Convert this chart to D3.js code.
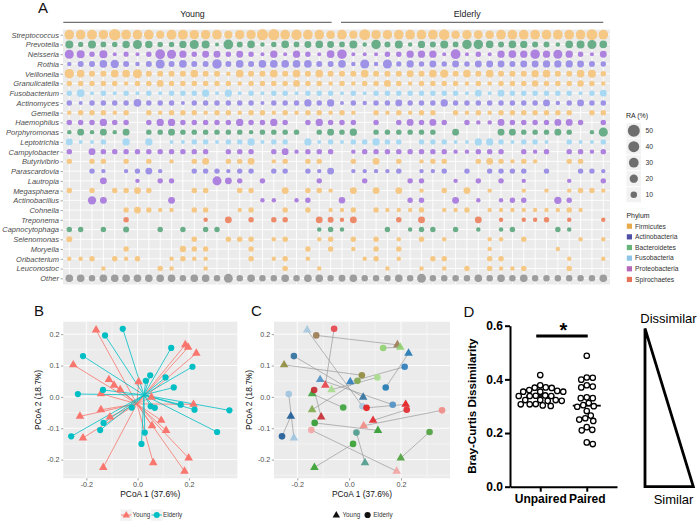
<!DOCTYPE html>
<html><head><meta charset="utf-8">
<script src="https://cdn.jsdelivr.net/npm/d3@7"></script>
<style>
body{margin:0;background:#fff;}
svg{display:block;font-family:"Liberation Sans",Arial,sans-serif;}
</style>
</head><body>
<svg id="c" width="700" height="523"></svg>
<script>
// ================= DATA =================
// Panel A: genera (rows), phylum of each genus, samples (columns)
const genera = ["Streptococcus","Prevotella","Neisseria","Rothia","Veillonella","Granulicatella","Fusobacterium","Actinomyces","Gemella","Haemophilus","Porphyromonas","Leptotrichia","Campylobacter","Butyrivibrio","Parascardovia","Lautropia","Megasphaera","Actinobacillus","Cohnella","Treponema","Capnocytophaga","Selenomonas","Moryella","Oribacterium","Leuconostoc","Other"];
const generaPhylum = ["Firmicutes","Bacteroidetes","Proteobacteria","Actinobacteria","Firmicutes","Firmicutes","Fusobacteria","Actinobacteria","Firmicutes","Proteobacteria","Bacteroidetes","Fusobacteria","Proteobacteria","Firmicutes","Actinobacteria","Proteobacteria","Firmicutes","Proteobacteria","Firmicutes","Spirochaetes","Bacteroidetes","Firmicutes","Firmicutes","Firmicutes","Firmicutes","Other"];
const phyla = ["Firmicutes","Actinobacteria","Bacteroidetes","Fusobacteria","Proteobacteria","Spirochaetes"];
const ageGroups = ["Young","Elderly"];
const youngSamples = d3.range(1,25).map(i=>"Y"+i);
const elderlySamples = d3.range(1,25).map(i=>"E"+i);
const samples = youngSamples.concat(elderlySamples);
const sizeLegendValues = [50,40,30,20,10];

// relative abundance (%) per genus, 48 samples (24 young, 24 elderly)
const raStreptococcus = [30,30,32,28,45,30,30,30,20,32,32,28,28,30,20,28, 28,42,42,30,36,30,30,22, 30,20,40,28,28,30,30,30, 30,38,22,28,24,22,30,30,30,30,30,30,30,30,40,30];
const raPrevotella = [18,5,18,7,6,15,25,15,6,6,14,25,18,2,30,8, 16,3,6,16,7,12,16,12,7,18,3,28,8,18,3,14, 8,18,7,28,28,16,8,16,14,8,8,3,16,18,25,16];
const raNeisseria = [25,18,6,18,2,5,2,6,30,25,14,6,12,12,6,12, 6,2,14,2,14,6,2,16,28,2,2,2,6,6,14,14, 14,2,30,2,6,2,14,16,14,28,14,25,14,6,2,12];
const raRothia = [3,8,8,16,20,8,3,8,25,8,16,8,8,28,8,16, 8,16,16,16,16,16,8,8,16,3,25,3,25,5,14,6, 12,6,12,6,12,12,12,8,12,12,14,14,14,12,8,6];
const raVeillonella = [28,16,8,8,16,16,25,8,8,8,8,16,8,8,3,16, 8,8,16,8,16,8,16,8,8,8,16,8,8,8,12,8, 16,20,8,16,8,16,8,8,8,14,16,8,8,16,18,6];
const raGranulicatella = [6,6,6,6,6,3,6,6,12,6,6,6,6,6,6,3, 6,6,6,6,12,6,6,3,6,3,6,6,12,6,3,6, 6,6,6,3,6,3,6,6,6,10,6,6,6,10,6,3];
const raFusobacterium = [6,16,2,6,2,6,2,6,2,6,6,6,14,2,14,2, 6,2,6,6,2,6,6,6,2,6,2,6,6,6,6,6, 6,6,6,2,12,2,12,6,6,6,6,6,6,2,6,12];
const raActinomyces = [6,2,6,6,6,6,16,6,6,6,2,6,6,6,6,6, 6,2,6,6,6,14,6,14,2,6,3,6,6,12,6,6, 6,14,6,6,6,6,6,6,6,6,12,3,6,12,6,6];
const raGemella = [3,6,6,6,3,6,0,6,3,6,6,6,3,6,6,3, 6,6,3,6,3,6,6,3,6,3,0,6,3,6,3,6, 6,0,6,3,6,3,6,6,6,6,6,6,6,0,6,6];
const raHaemophilus = [6,6,6,14,6,6,0,6,14,14,6,6,6,6,6,14, 6,6,14,6,0,6,14,6,6,6,0,6,0,6,12,6, 12,6,0,6,3,3,12,6,6,6,6,12,12,6,0,6];
const raPorphyromonas = [3,12,3,12,3,12,0,6,6,12,6,6,6,6,6,6, 3,6,6,6,6,0,6,12,6,14,0,6,6,6,6,6, 6,0,12,0,0,0,12,12,6,6,6,12,6,0,3,25];
const raLeptotrichia = [12,2,2,6,0,14,0,14,0,2,2,6,6,2,6,6, 14,2,6,6,0,14,2,6,2,6,6,14,6,6,0,6, 6,6,2,2,14,14,6,2,6,6,2,0,6,2,2,6];
const raCampylobacter = [6,0,12,6,6,6,6,6,6,6,6,6,6,0,6,6, 6,0,6,12,3,6,6,6,0,3,6,6,6,6,6,6, 6,6,3,3,6,6,6,0,6,3,6,0,6,6,3,6];
const raButyrivibrio = [6,0,6,6,0,6,0,6,0,3,0,6,12,0,6,6, 12,0,3,6,0,6,6,0,0,6,0,12,0,6,0,3, 6,6,0,0,6,12,6,3,6,3,0,0,6,6,0,0];
const raParascardovia = [0,0,6,3,0,3,6,12,3,0,0,6,6,6,3,6, 6,0,6,6,0,6,3,12,0,3,3,3,3,6,0,3, 3,6,0,6,0,6,6,6,6,0,6,0,0,6,6,3];
const raLautropia = [0,0,0,12,0,0,3,0,6,6,0,0,0,25,12,6, 0,6,0,0,0,0,6,0,0,0,6,0,0,0,6,6, 0,0,3,0,6,0,6,0,3,0,0,0,3,0,0,6];
const raMegasphaera = [6,0,6,0,6,6,12,6,0,0,0,6,6,0,0,6, 6,0,0,12,0,6,6,3,0,12,0,12,0,12,0,3, 0,6,0,12,0,3,0,0,3,0,3,0,3,6,6,3];
const raActinobacillus = [0,0,20,12,0,0,0,0,0,12,0,0,0,0,0,0, 0,3,3,0,3,6,0,0,10,0,0,0,0,0,6,6, 0,0,12,0,3,0,3,6,6,0,0,14,6,0,0,0];
const raCohnella = [0,0,0,0,0,6,12,6,3,3,0,6,6,0,0,3, 6,0,0,6,0,6,0,3,3,6,0,6,3,3,3,6, 0,3,3,6,0,3,3,3,3,3,3,3,6,3,0,0];
const raTreponema = [0,0,0,0,0,6,0,0,0,0,0,0,3,0,12,0, 6,0,6,6,0,0,12,8,3,12,0,0,0,6,0,12, 0,0,0,0,12,0,3,0,3,3,6,0,3,0,0,3];
const raCapnocytophaga = [6,6,0,6,0,8,0,0,6,0,6,0,6,6,0,0, 0,0,0,0,0,0,3,6,3,0,0,0,6,0,3,6, 6,0,6,0,3,0,3,6,0,0,0,6,3,0,0,0];
const raSelenomonas = [8,0,0,0,0,0,0,0,0,0,0,6,0,0,6,6, 6,0,3,6,0,0,3,6,0,6,0,6,0,3,0,6, 0,3,0,0,0,3,3,0,6,0,0,0,0,3,0,3];
const raMoryella = [0,0,0,0,0,6,0,0,0,0,10,6,6,0,0,0, 6,0,0,0,0,6,0,6,0,3,0,6,0,6,0,0, 0,0,0,0,0,3,0,0,0,0,0,3,0,0,0,0];
const raOribacterium = [3,3,6,0,6,3,6,0,0,3,6,3,3,0,0,0, 6,0,3,6,0,3,0,0,0,0,3,6,0,3,0,0, 6,6,0,0,0,6,6,0,0,0,0,0,3,0,0,3];
const raLeuconostoc = [0,0,0,3,0,0,0,0,6,3,0,0,3,0,0,0, 0,0,0,6,0,0,3,0,0,0,0,0,3,0,0,3, 0,3,0,6,0,6,3,3,6,0,0,0,6,0,0,0];
const raOther = [16,16,10,16,16,16,16,16,16,16,10,16,16,10,24,10, 16,10,10,16,10,16,16,10,12,16,10,10,10,16,10,24, 10,10,10,10,16,10,16,10,16,10,10,10,10,10,10,16];
const raRows = [raStreptococcus,raPrevotella,raNeisseria,raRothia,raVeillonella,raGranulicatella,raFusobacterium,raActinomyces,raGemella,raHaemophilus,raPorphyromonas,raLeptotrichia,raCampylobacter,raButyrivibrio,raParascardovia,raLautropia,raMegasphaera,raActinobacillus,raCohnella,raTreponema,raCapnocytophaga,raSelenomonas,raMoryella,raOribacterium,raLeuconostoc,raOther];

// Panels B/C: PCoA coordinates; young[i] is paired with elderly[i]
const youngPC1 = [-0.162,-0.251,0.186,0.197,0.229,-0.112,-0.092,-0.068,-0.143,0.004,0.054,-0.143,-0.225,-0.108,-0.213,0.092,0.056,0.111,0.218,-0.134,0.061,0.199,0.183];
const youngPC2 = [0.213,0.102,0.166,0.158,0.139,0.055,0.037,0.023,0.010,0.048,-0.001,-0.041,-0.062,-0.064,-0.131,-0.075,-0.092,-0.107,-0.024,-0.225,-0.210,-0.195,-0.237];
const elderlyPC1 = [0.051,0.049,-0.127,0.131,0.141,0.168,-0.058,0.109,-0.023,0.214,-0.213,0.032,-0.259,-0.135,-0.233,0.222,0.358,-0.133,0.067,0.015,0.028,0.310,-0.146];
const elderlyPC2 = [-0.030,0.069,0.196,0.156,0.030,-0.025,0.217,0.062,-0.034,0.096,0.130,0.051,-0.126,0.022,0.009,-0.041,-0.043,-0.083,-0.035,-0.150,-0.114,-0.112,-0.106];
const pairColors = ["#a6c8de","#8f8a3c","#9c7a52","#8fd16f","#1f78b4","#4f90c4","#e8424a","#a8dc8c","#3aa33a","#2b7bba","#2e6f9f","#7fa84a","#1d5a96","#c62a30","#9ec4e0","#e2262b","#f08a84","#2e9a2e","#e31a1c","#33a02c","#4b9c8c","#4c9e3c","#f4a3a3"];
const pcTicksX = [-0.2,0,0.2];
const pcTicksY = [-0.2,-0.1,0,0.1,0.2];

// Panel D: Bray-Curtis dissimilarity
const dCategories = ["Unpaired","Paired"];
const unpairedBC = [0.416,0.378,0.369,0.368,0.370,0.360,0.357,0.354,0.354,0.354,0.340,0.339,0.338,0.338,0.338,0.323,0.323,0.323,0.320,0.320,0.308,0.307,0.307,0.303,0.301];
const pairedBC = [0.488,0.407,0.406,0.399,0.378,0.373,0.370,0.333,0.330,0.330,0.312,0.304,0.300,0.298,0.282,0.265,0.255,0.250,0.245,0.222,0.212,0.210,0.165,0.159];
const dTicks = [0,0.2,0.4,0.6];

// ================= STYLE =================
const dotColor = {Firmicutes:"#f5c886",Actinobacteria:"#9d92e6",Bacteroidetes:"#6aae89",Fusobacteria:"#a9d9f2",Proteobacteria:"#ae82df",Spirochaetes:"#ec8a6a",Other:"#9d9d9d"};
const keyColor = {Firmicutes:"#e8a94b",Actinobacteria:"#4f4fa6",Bacteroidetes:"#66b47a",Fusobacteria:"#8ec5e6",Proteobacteria:"#b669b9",Spirochaetes:"#e6735a"};
const FONT = '"Liberation Sans",Arial,sans-serif';
const svg = d3.select("#c");

// ================= PANEL A =================
const A = {l:63, r:610, t:29.5, b:284.5};
const xA = d3.scalePoint().domain(samples).range([69.3, 603.3]);
const yA = d3.scalePoint().domain(genera).range([34.7, 278.3]);
const rA = d3.scaleSqrt().domain([0,50]).range([1,6]);
const gA = svg.append("g");
gA.append("rect").attr("x",A.l).attr("y",A.t).attr("width",A.r-A.l).attr("height",A.b-A.t).attr("fill","#ebebeb");
gA.selectAll("line.vg").data(samples).join("line").attr("class","vg")
  .attr("x1",d=>xA(d)).attr("x2",d=>xA(d)).attr("y1",A.t).attr("y2",A.b).attr("stroke","#fff").attr("stroke-width",0.9);
gA.selectAll("line.hg").data(genera).join("line").attr("class","hg")
  .attr("x1",A.l).attr("x2",A.r).attr("y1",d=>yA(d)).attr("y2",d=>yA(d)).attr("stroke","#fff").attr("stroke-width",0.9);
const cells = [];
genera.forEach((g,gi)=>raRows[gi].forEach((v,si)=>{ if(v>0) cells.push({g, s:samples[si], v, p:generaPhylum[gi]}); }));
gA.selectAll("circle.b").data(cells).join("circle").attr("class","b")
  .attr("cx",d=>xA(d.s)).attr("cy",d=>yA(d.g)).attr("r",d=>rA(d.v)).attr("fill",d=>dotColor[d.p]);
const axA = gA.append("g").attr("transform",`translate(${A.l},0)`).call(d3.axisLeft(yA).tickSize(2.5).tickPadding(1.5));
axA.attr("font-family",FONT).attr("font-size",7.5);
axA.select(".domain").remove();
axA.selectAll("line").attr("stroke","#555").attr("stroke-width",0.5);
axA.selectAll("text").attr("font-style","italic").attr("fill","#4d4d4d");
// group headers
const groupSpans = [
  {name:ageGroups[0], x1:xA(youngSamples[0])-6, x2:xA(youngSamples[23])+1},
  {name:ageGroups[1], x1:xA(elderlySamples[0])-1, x2:xA(elderlySamples[23])}
];
groupSpans.forEach(s=>{
  gA.append("line").attr("x1",s.x1).attr("x2",s.x2).attr("y1",22.3).attr("y2",22.3).attr("stroke","#222").attr("stroke-width",0.8);
  gA.append("text").attr("x",(s.x1+s.x2)/2-5).attr("y",16.5).attr("text-anchor","middle").attr("font-size",8.8).attr("fill","#222").text(s.name);
});
svg.append("text").attr("x",38).attr("y",13).attr("font-size",15).attr("fill","#111").text("A");
// size legend
const gL = svg.append("g").attr("font-family",FONT);
gL.append("text").attr("x",626).attr("y",118).attr("font-size",7).attr("fill","#222").text("RA (%)");
sizeLegendValues.forEach((v,i)=>{
  const cy = 130.7 + i*16;
  gL.append("rect").attr("x",626.5).attr("y",cy-7.5).attr("width",14.5).attr("height",15).attr("fill","#f2f2f2");
  gL.append("circle").attr("cx",633.8).attr("cy",cy).attr("r",rA(v)).attr("fill","#6e6e6e");
  gL.append("text").attr("x",645.5).attr("y",cy+2.4).attr("font-size",6.8).attr("fill","#333").text(v);
});
gL.append("text").attr("x",626.5).attr("y",217.5).attr("font-size",6.9).attr("fill","#222").text("Phylum");
phyla.forEach((p,i)=>{
  const cy = 226.2 + i*10.65;
  gL.append("rect").attr("x",626.8).attr("y",cy-2.6).attr("width",5.2).attr("height",5.2).attr("fill",keyColor[p]);
  gL.append("text").attr("x",635).attr("y",cy+2.3).attr("font-size",6.7).attr("fill","#333").text(p);
});

// ================= PANELS B & C =================
const allPC1 = youngPC1.concat(elderlyPC1), allPC2 = youngPC2.concat(elderlyPC2);
const ex = d3.extent(allPC1), ey = d3.extent(allPC2);
const px = (ex[1]-ex[0])*0.05, py = (ey[1]-ey[0])*0.05;
const xDom = [ex[0]-px, ex[1]+px], yDom = [ey[0]-py, ey[1]+py];
const fmt = d=> d3.format(".1f")(d).replace("\u2212","-");

function pcPanel(left, right) {
  const top = 321.7, bottom = 478.3;
  const xs = d3.scaleLinear().domain(xDom).range([left,right]);
  const ys = d3.scaleLinear().domain(yDom).range([bottom,top]);
  const g = svg.append("g");
  g.append("rect").attr("x",left).attr("y",top).attr("width",right-left).attr("height",bottom-top).attr("fill","#ebebeb");
  const minorX = [-0.3,-0.1,0.1,0.3].filter(v=>v>xDom[0]&&v<xDom[1]);
  const minorY = [-0.25,-0.15,-0.05,0.05,0.15,0.25].filter(v=>v>yDom[0]&&v<yDom[1]);
  g.selectAll("line.mx").data(minorX).join("line").attr("x1",d=>xs(d)).attr("x2",d=>xs(d)).attr("y1",top).attr("y2",bottom).attr("stroke","#fff").attr("stroke-width",0.45);
  g.selectAll("line.my").data(minorY).join("line").attr("y1",d=>ys(d)).attr("y2",d=>ys(d)).attr("x1",left).attr("x2",right).attr("stroke","#fff").attr("stroke-width",0.45);
  g.selectAll("line.gx").data(pcTicksX).join("line").attr("x1",d=>xs(d)).attr("x2",d=>xs(d)).attr("y1",top).attr("y2",bottom).attr("stroke","#fff").attr("stroke-width",0.9);
  g.selectAll("line.gy").data(pcTicksY).join("line").attr("y1",d=>ys(d)).attr("y2",d=>ys(d)).attr("x1",left).attr("x2",right).attr("stroke","#fff").attr("stroke-width",0.9);
  const ax = g.append("g").attr("transform",`translate(0,${bottom})`).call(d3.axisBottom(xs).tickValues(pcTicksX).tickFormat(fmt).tickSize(2.2).tickPadding(1.2));
  const ay = g.append("g").attr("transform",`translate(${left},0)`).call(d3.axisLeft(ys).tickValues(pcTicksY).tickFormat(fmt).tickSize(2.2).tickPadding(1.5));
  [ax,ay].forEach(a=>{
    a.attr("font-family",FONT).attr("font-size",7.2);
    a.select(".domain").remove();
    a.selectAll("line").attr("stroke","#444").attr("stroke-width",0.5);
    a.selectAll("text").attr("fill","#4d4d4d");
  });
  g.append("text").attr("x",(left+right)/2).attr("y",497).attr("text-anchor","middle").attr("font-size",8.4).attr("fill","#111").text("PCoA 1 (37.6%)");
  g.append("text").attr("transform",`translate(${left-22.5},${(top+bottom)/2}) rotate(-90)`).attr("text-anchor","middle").attr("font-size",8.4).attr("fill","#111").text("PCoA 2 (18.7%)");
  return {g, xs, ys};
}

const young = youngPC1.map((x,i)=>({x, y:youngPC2[i], grp:"Young", i}));
const elderly = elderlyPC1.map((x,i)=>({x, y:elderlyPC2[i], grp:"Elderly", i}));
const groupColor = {Young:"#f8766d", Elderly:"#00bfc4"};
const tri = d3.symbol().type(d3.symbolTriangle).size(32);
const triSmall = d3.symbol().type(d3.symbolTriangle).size(24);

// Panel B
const B = pcPanel(63.3, 237.3);
const cents = {
  Young: {x:d3.mean(young,d=>d.x), y:d3.mean(young,d=>d.y)},
  Elderly: {x:d3.mean(elderly,d=>d.x), y:d3.mean(elderly,d=>d.y)}
};
const allPts = young.concat(elderly);
B.g.selectAll("line.sp").data(allPts).join("line").attr("class","sp")
  .attr("x1",d=>B.xs(d.x)).attr("y1",d=>B.ys(d.y))
  .attr("x2",d=>B.xs(cents[d.grp].x)).attr("y2",d=>B.ys(cents[d.grp].y))
  .attr("stroke",d=>groupColor[d.grp]).attr("stroke-width",0.8);
B.g.selectAll("path.yt").data(young).join("path").attr("d",tri)
  .attr("transform",d=>`translate(${B.xs(d.x)},${B.ys(d.y)})`).attr("fill",groupColor.Young);
B.g.selectAll("circle.ec").data(elderly).join("circle")
  .attr("cx",d=>B.xs(d.x)).attr("cy",d=>B.ys(d.y)).attr("r",3.1).attr("fill",groupColor.Elderly);
svg.append("text").attr("x",34).attr("y",315.5).attr("font-size",15).attr("fill","#111").text("B");
// B legend
const legB = svg.append("g").attr("font-family",FONT);
[{k:"Young",x:120.5,lx:132.5},{k:"Elderly",x:151,lx:163}].forEach(o=>{
  legB.append("rect").attr("x",o.x).attr("y",509.3).attr("width",11.5).attr("height",11.5).attr("fill","#f2f2f2");
  legB.append("line").attr("x1",o.x+0.5).attr("x2",o.x+11).attr("y1",515).attr("y2",515).attr("stroke",groupColor[o.k]).attr("stroke-width",0.9);
  if(o.k==="Young") legB.append("path").attr("d",triSmall).attr("transform",`translate(${o.x+5.75},515.3)`).attr("fill",groupColor.Young);
  else legB.append("circle").attr("cx",o.x+5.75).attr("cy",515).attr("r",3).attr("fill",groupColor.Elderly);
  legB.append("text").attr("x",o.lx).attr("y",517.3).attr("font-size",6.3).attr("fill","#333").text(o.k);
});

// Panel C
const C = pcPanel(274, 450);
C.g.selectAll("line.pr").data(young).join("line")
  .attr("x1",d=>C.xs(d.x)).attr("y1",d=>C.ys(d.y))
  .attr("x2",d=>C.xs(elderly[d.i].x)).attr("y2",d=>C.ys(elderly[d.i].y))
  .attr("stroke","#9a9a9a").attr("stroke-width",0.7);
C.g.selectAll("path.yt").data(young).join("path").attr("d",tri)
  .attr("transform",d=>`translate(${C.xs(d.x)},${C.ys(d.y)})`).attr("fill",d=>pairColors[d.i]).attr("opacity",0.9);
C.g.selectAll("circle.ec").data(elderly).join("circle")
  .attr("cx",d=>C.xs(d.x)).attr("cy",d=>C.ys(d.y)).attr("r",3.3).attr("fill",d=>pairColors[d.i]).attr("opacity",0.9);
svg.append("text").attr("x",251).attr("y",315.5).attr("font-size",15).attr("fill","#111").text("C");
const legC = svg.append("g").attr("font-family",FONT);
legC.append("path").attr("d",triSmall).attr("transform","translate(336.3,515.4)").attr("fill","#111");
legC.append("text").attr("x",342.5).attr("y",517.3).attr("font-size",6.3).attr("fill","#333").text("Young");
legC.append("circle").attr("cx",367.6).attr("cy",515).attr("r",3.1).attr("fill","#111");
legC.append("text").attr("x",373.3).attr("y",517.3).attr("font-size",6.3).attr("fill","#333").text("Elderly");

// ================= PANEL D =================
const yD = d3.scaleLinear().domain([0,0.6]).range([486.7,325.7]);
const xD = d3.scalePoint().domain(dCategories).range([510,617]).padding(0.65);
const gD = svg.append("g").attr("font-family",FONT);
const axDy = gD.append("g").attr("transform","translate(510,0)").call(d3.axisLeft(yD).tickValues(dTicks).tickFormat(d3.format(".1f")).tickSize(5).tickSizeOuter(0).tickPadding(2));
const axDx = gD.append("g").attr("transform","translate(0,486.7)").call(d3.axisBottom(xD).tickSize(5).tickSizeOuter(0).tickPadding(3));
[axDy,axDx].forEach(a=>{
  a.attr("font-family",FONT).attr("font-size",12).attr("font-weight","bold");
  a.select(".domain").attr("stroke","#000").attr("stroke-width",2);
  a.selectAll(".tick line").attr("stroke","#000").attr("stroke-width",2);
  a.selectAll("text").attr("fill","#000");
});
gD.append("text").attr("transform",`translate(476,${(325.7+486.7)/2}) rotate(-90)`).attr("text-anchor","middle")
  .attr("font-size",11.6).attr("font-weight","bold").attr("fill","#000").text("Bray-Curtis Dissimilarity");
function swarm(vals, cx, minD) {
  const pts = vals.map(v=>({v, y:yD(v)})).sort((a,b)=>d3.descending(a.v,b.v));
  const placed = [];
  pts.forEach(p=>{
    let off = 0;
    for (let k=0;k<400;k++){
      const cand = (k%2 ? 1 : -1)*Math.ceil(k/2)*0.5;
      if (placed.every(q=>Math.hypot(q.x-(cx+cand), q.y-p.y) >= minD)) { off = cand; break; }
    }
    p.x = cx+off; placed.push(p);
  });
  return placed;
}
const dSets = [{cat:dCategories[0], vals:unpairedBC},{cat:dCategories[1], vals:pairedBC}];
dSets.forEach(s=>{
  const cx = xD(s.cat);
  const pts = swarm(s.vals, cx, 5.9);
  const med = d3.median(s.vals);
  gD.append("line").attr("x1",cx-14).attr("x2",cx+14).attr("y1",yD(med)).attr("y2",yD(med)).attr("stroke","#000").attr("stroke-width",1.8);
  gD.selectAll(null).data(pts).join("circle").attr("cx",d=>d.x).attr("cy",d=>d.y).attr("r",2.7)
    .attr("fill","#fff").attr("stroke","#000").attr("stroke-width",1.3);
});
// significance
gD.append("line").attr("x1",xD(dCategories[0])-4).attr("x2",xD(dCategories[1])+1).attr("y1",336).attr("y2",336).attr("stroke","#000").attr("stroke-width",3);
gD.append("text").attr("x",(xD(dCategories[0])+xD(dCategories[1]))/2).attr("y",337).attr("text-anchor","middle").attr("font-size",20).attr("font-weight","bold").text("*");
svg.append("text").attr("x",463.5).attr("y",316.5).attr("font-size",15).attr("fill","#111").text("D");
// dissimilar/similar triangle (uses D scale for its vertical extent)
const triTop = yD(0.59), triBot = yD(0);
gD.append("path").attr("d",`M645,${triTop}L645,${triBot}L693.3,${triBot}Z`).attr("fill","none").attr("stroke","#000").attr("stroke-width",2.8).attr("stroke-linejoin","miter");
gD.append("text").attr("x",668.5).attr("y",323.3).attr("text-anchor","middle").attr("font-size",13).attr("fill","#000").text("Dissimilar");
gD.append("text").attr("x",673.5).attr("y",503.5).attr("text-anchor","middle").attr("font-size",13).attr("fill","#000").text("Similar");
</script>
</body></html>
